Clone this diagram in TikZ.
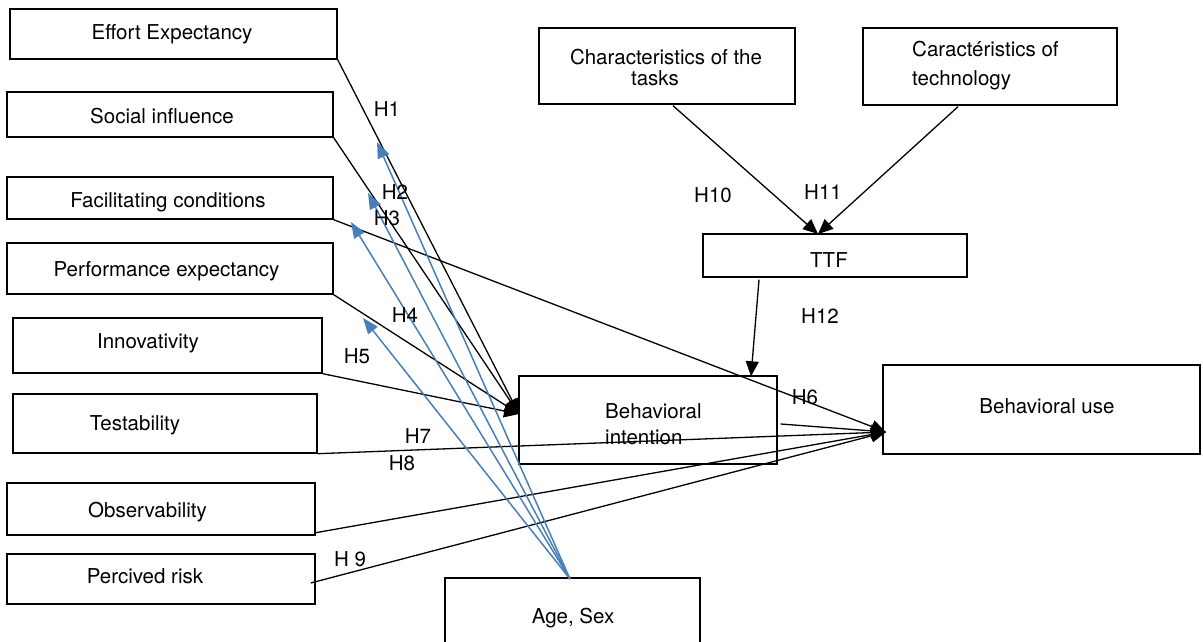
\documentclass[tikz,border=0pt]{standalone}
\usepackage{fontspec}
\setmainfont{TeX Gyre Heros}
\usetikzlibrary{arrows.meta}
\definecolor{modblue}{HTML}{4A7EBB}

\begin{document}
\begin{tikzpicture}[x=1pt,y=-1pt,
	box/.style={draw,line width=1.4pt,inner sep=0pt},
	txt/.style={anchor=base,inner sep=0pt,font=\fontsize{20.5}{22}\selectfont},
	hyp/.style={line width=1.3pt,-{Triangle[length=15pt,width=13pt]}},
	mod/.style={modblue,line width=1.5pt,-{Triangle[length=16pt,width=12pt]}}]

	\useasboundingbox (0,0) rectangle (1203,642);
	\clip (0,0) rectangle (1203,642);

	% left column
	\node[box,minimum width=327,minimum height=50] (ee) at (173.5,34) {};
	\node[txt] (eeT) at (172,40) {Effort Expectancy};
	\node[box,minimum width=326,minimum height=45] (si) at (170,114.5) {};
	\node[txt] (siT) at (162,124) {Social influence};
	\node[box,minimum width=326,minimum height=42] (fc) at (170,198) {};
	\node[txt] (fcT) at (168,207) {Facilitating conditions};
	\node[box,minimum width=326,minimum height=51] (pe) at (170,268.5) {};
	\node[txt] (peT) at (166.5,276) {Performance expectancy};
	\node[box,minimum width=309,minimum height=55] (inn) at (167.5,345.5) {};
	\node[txt] (innT) at (148,348) {Innovativity};
	\node[box,minimum width=304,minimum height=59] (test) at (165,423.5) {};
	\node[txt] (testT) at (135,430) {Testability};
	\node[box,minimum width=308,minimum height=52] (obs) at (161,509) {};
	\node[txt] (obsT) at (147.5,517) {Observability};
	\node[box,minimum width=308,minimum height=50] (risk) at (161,579) {};
	\node[txt] (riskT) at (145,583) {Percived risk};

	% middle and right
	\node[box,minimum width=255,minimum height=80] (age) at (572.5,618) {};
	\node[txt] (ageT) at (573,623) {Age, Sex};
	\node[box,minimum width=258,minimum height=88] (bi) at (648,420) {};
	\node[txt,anchor=base west] (biT1) at (605,418) {Behavioral};
	\node[txt,anchor=base west] (biT2) at (605,444) {intention};
	\node[box,minimum width=317,minimum height=89] (bu) at (1041.5,409.5) {};
	\node[txt] (buT) at (1047,413) {Behavioral use};
	\node[box,minimum width=264,minimum height=43] (ttf) at (835,255.5) {};
	\node[txt] (ttfT) at (829,267) {TTF};
	\node[box,minimum width=256,minimum height=76] (ctask) at (667,66) {};
	\node[txt] (ctaskT1) at (666,65) {Characteristics of the};
	\node[txt] (ctaskT2) at (655,86) {tasks};
	\node[box,minimum width=254,minimum height=77] (ctech) at (990,66.5) {};
	\node[txt,anchor=base west] (ctechT1) at (912,57) {Caractéristics of};
	\node[txt,anchor=base west] (ctechT2) at (912,85) {technology};

	\coordinate (biIn) at (519,414);
	\coordinate (buIn) at (886,432);
	\coordinate (ttfIn) at (818,234);
	\coordinate (ageOut) at (570,579);

	% hypotheses
	\draw[hyp] (ee.south east) -- (biIn);
	\draw[hyp] (si.south east) -- (biIn);
	\draw[hyp] (pe.south east) -- (biIn);
	\draw[hyp] (inn.south east) -- (biIn);
	\draw[hyp] (fc.south east) -- (buIn);
	\draw[hyp] ([shift={(3,4)}]bi.east) -- (buIn);
	\draw[hyp] (test.south east) -- (buIn);
	\draw[hyp] ([shift={(0,-3)}]obs.south east) -- (buIn);
	\draw[hyp] ([shift={(-5,4)}]risk.east) -- (buIn);
	\draw[hyp] ([shift={(6,1)}]ctask.south) -- (ttfIn);
	\draw[hyp] ([shift={(-32,1)}]ctech.south) -- (ttfIn);
	\draw[hyp] ([shift={(-76,2)}]ttf.south) -- ([shift={(103,1)}]bi.north);

	% moderators
	\coordinate (m1) at (377,142);
	\coordinate (m2) at (368,193);
	\coordinate (m3) at (351,222);
	\coordinate (m4) at (363,318);
	\foreach \m in {m1,m2,m3,m4}
		\draw[mod] (ageOut) -- (\m);

	% labels
	\node[txt] (h1) at (387,117) {H1};
	\node[txt] (h2) at (395,199) {H2};
	\node[txt] (h3) at (387,225) {H3};
	\node[txt] (h4) at (405,322) {H4};
	\node[txt] (h5) at (357,363) {H5};
	\node[txt] (h6) at (805,404) {H6};
	\node[txt] (h7) at (418,443) {H7};
	\node[txt] (h8) at (402,470) {H8};
	\node[txt] (h9) at (350,566) {H 9};
	\node[txt] (h10) at (713,202) {H10};
	\node[txt] (h11) at (823,199) {H11};
	\node[txt] (h12) at (820,323) {H12};
\end{tikzpicture}
\end{document}
